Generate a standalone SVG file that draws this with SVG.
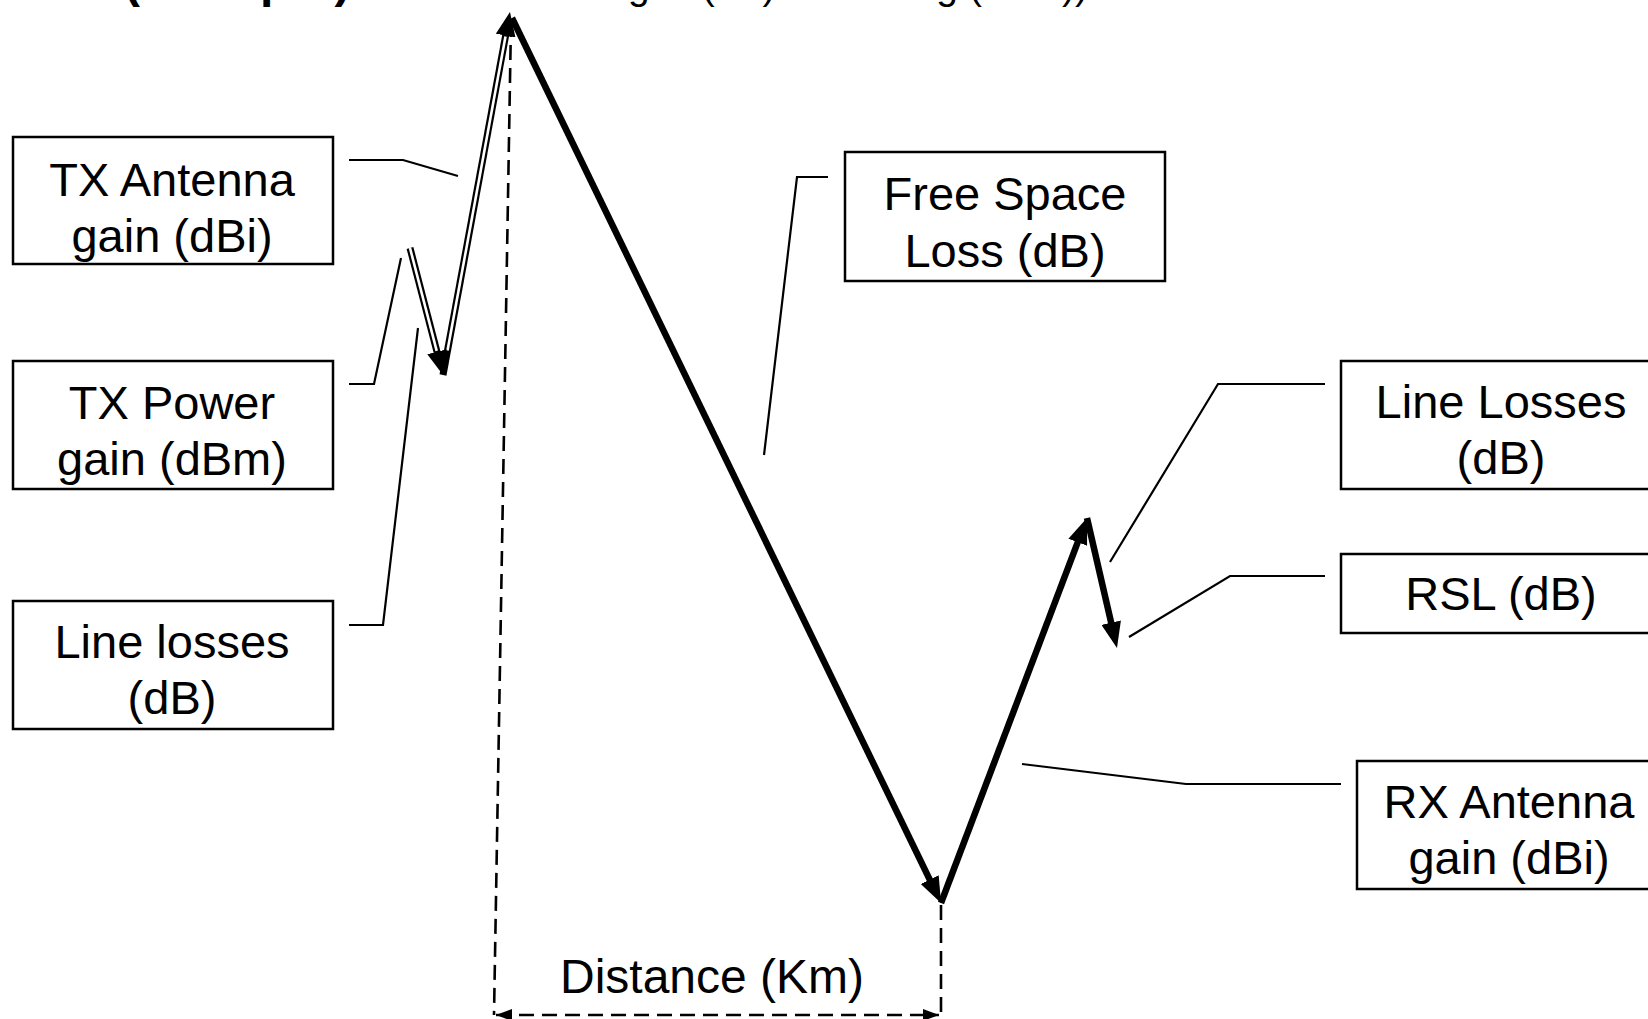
<svg xmlns="http://www.w3.org/2000/svg" width="1648" height="1019" viewBox="0 0 1648 1019">
<style>
.box{fill:#fff;stroke:#000;stroke-width:2.5}
.lbl{font-family:"Liberation Sans",Arial,sans-serif;font-size:47px;fill:#000;text-anchor:middle}
.top{font-family:"Liberation Sans",Arial,sans-serif;fill:#000}
.call{fill:none;stroke:#000;stroke-width:2.2}
.thick{fill:none;stroke:#000;stroke-width:6.5;marker-end:url(#ah)}
.dbl{fill:none;stroke:#000;stroke-width:7;marker-end:url(#ah2)}
.dblin{fill:none;stroke:#fff;stroke-width:2.6}
.dash{fill:none;stroke:#000;stroke-width:2.6;stroke-dasharray:15 8}
</style>
<defs>
<marker id="ah" markerUnits="userSpaceOnUse" viewBox="0 0 26 20" markerWidth="26" markerHeight="20" refX="14" refY="10" orient="auto"><path d="M0,0 L26,10 L0,20 z" fill="#000"/></marker>
<marker id="ah2" markerUnits="userSpaceOnUse" viewBox="0 0 24 20" markerWidth="24" markerHeight="20" refX="12" refY="10" orient="auto"><path d="M0,0 L24,10 L0,20 z" fill="#000"/></marker>
<marker id="ahs" markerUnits="userSpaceOnUse" viewBox="0 0 16 12" markerWidth="16" markerHeight="12" refX="16" refY="6" orient="auto-start-reverse"><path d="M0,0 L16,6 L0,12 z" fill="#000"/></marker>
</defs>

<g id="title">
<text class="top" x="124" y="-3" font-size="48" font-weight="bold">(dBm/pW)</text>
<text class="top" x="628" y="-1" font-size="39">gain(dB)</text>
<text class="top" x="906" y="-1" font-size="39">ing (dBm))</text>
</g>

<g id="connectors">
<!-- dashed distance guides -->
<path class="dash" d="M511,22 L494,1015"/>
<path class="dash" d="M941,905 L941,1015"/>
<path class="dash" d="M496,1015 L939,1015" marker-start="url(#ahs)" marker-end="url(#ahs)"/>
<!-- double-line arrows (TX side) -->
<path class="dbl" d="M443,375 L507.8,23.8"/>
<path class="dblin" d="M447.5,350.4 L505.5,36.6"/>
<path class="dbl" d="M410,248 L440,363.4"/>
<path class="dblin" d="M410,248 L436.7,350.8"/>
<!-- thick path -->
<path class="thick" d="M512,18 L935.8,892.2"/>
<path class="thick" d="M941,903 L1082.7,529.2"/>
<path class="thick" d="M1087,518 L1114.3,636.3"/>
<!-- callout lines -->
<path class="call" d="M349,160 L403,160 L458,176"/>
<path class="call" d="M349,384 L374,384 L401,258"/>
<path class="call" d="M349,625 L383,625 L418,328"/>
<path class="call" d="M828,177 L797,177 L764,455"/>
<path class="call" d="M1325,384 L1218,384 L1110,562"/>
<path class="call" d="M1325,576 L1230,576 L1129,637"/>
<path class="call" d="M1341,784 L1186,784 L1022,764"/>
</g>

<g id="tx-antenna">
<rect class="box" x="13" y="137" width="320" height="127"/>
<text class="lbl" x="172" y="196">TX Antenna</text>
<text class="lbl" x="172" y="252">gain (dBi)</text>
</g>
<g id="tx-power">
<rect class="box" x="13" y="361" width="320" height="128"/>
<text class="lbl" x="172" y="419">TX Power</text>
<text class="lbl" x="172" y="475">gain (dBm)</text>
</g>
<g id="tx-line-losses">
<rect class="box" x="13" y="601" width="320" height="128"/>
<text class="lbl" x="172" y="658">Line losses</text>
<text class="lbl" x="172" y="714">(dB)</text>
</g>
<g id="free-space-loss">
<rect class="box" x="845" y="152" width="320" height="129"/>
<text class="lbl" x="1005" y="210">Free Space</text>
<text class="lbl" x="1005" y="267">Loss (dB)</text>
</g>
<g id="rx-line-losses">
<rect class="box" x="1341" y="361" width="320" height="128"/>
<text class="lbl" x="1501" y="418">Line Losses</text>
<text class="lbl" x="1501" y="474">(dB)</text>
</g>
<g id="rsl">
<rect class="box" x="1341" y="554" width="320" height="79"/>
<text class="lbl" x="1501" y="610">RSL (dB)</text>
</g>
<g id="rx-antenna">
<rect class="box" x="1357" y="761" width="320" height="128"/>
<text class="lbl" x="1509" y="818">RX Antenna</text>
<text class="lbl" x="1509" y="874">gain (dBi)</text>
</g>
<g id="distance">
<text class="lbl" x="712" y="993" style="font-size:48px">Distance (Km)</text>
</g>
</svg>
